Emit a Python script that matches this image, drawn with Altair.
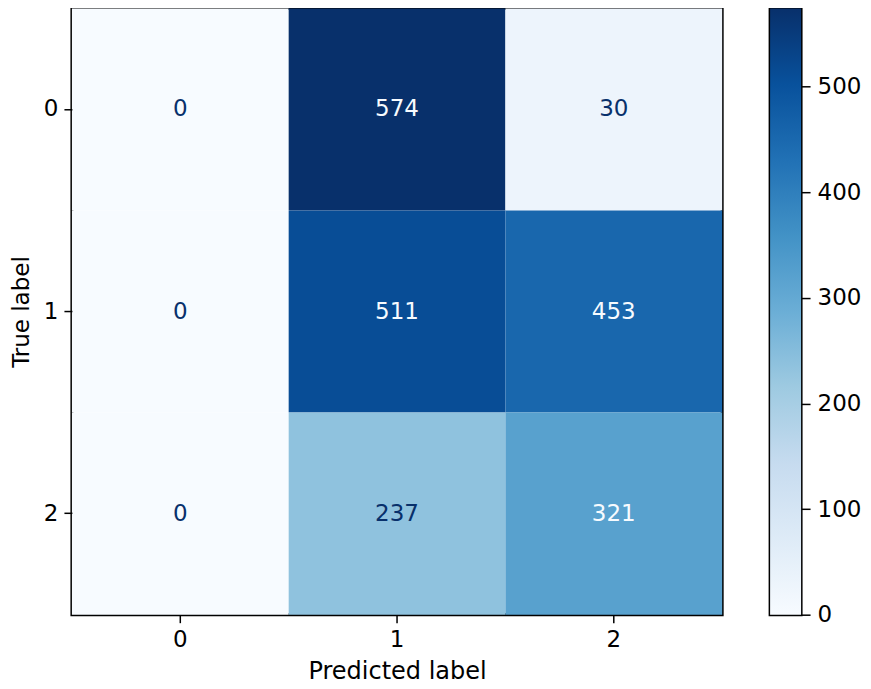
import altair as alt
import pandas as pd

true_labels = ["0", "1", "2"]
pred_labels = ["0", "1", "2"]
counts = [
    [0, 574, 30],
    [0, 511, 453],
    [0, 237, 321],
]
colorbar_ticks = [0, 100, 200, 300, 400, 500]

blues = ["#f7fbff", "#deebf7", "#c6dbef", "#9ecae1", "#6baed6",
         "#4292c6", "#2171b5", "#08519c", "#08306b"]

rows = []
for i, t in enumerate(true_labels):
    for j, p in enumerate(pred_labels):
        rows.append({"true": t, "pred": p, "count": counts[i][j]})
df = pd.DataFrame(rows)

vmax = max(max(r) for r in counts)
vmin = min(min(r) for r in counts)
thresh = (vmax + vmin) / 2.0
stops = [vmin + (vmax - vmin) * k / (len(blues) - 1) for k in range(len(blues))]

FONT = "DejaVu Sans"
FS = 23

base = alt.Chart(df).encode(
    x=alt.X("pred:O", sort=pred_labels, title="Predicted label",
            scale=alt.Scale(paddingInner=0, paddingOuter=0),
            axis=alt.Axis(labelAngle=0, labelPadding=6, titlePadding=8,
                          titleFontSize=24)),
    y=alt.Y("true:O", sort=true_labels, title="True label",
            scale=alt.Scale(paddingInner=0, paddingOuter=0),
            axis=alt.Axis(labelPadding=6, titlePadding=10)),
)

rect = base.mark_rect().encode(
    color=alt.Color(
        "count:Q",
        scale=alt.Scale(domain=stops, range=blues, interpolate="rgb"),
        legend=None,
    )
)

text = base.mark_text(font=FONT, fontSize=FS).encode(
    text="count:Q",
    color=alt.condition(alt.datum["count"] < thresh,
                        alt.value("#08306b"), alt.value("#f7fbff")),
)

heat = alt.layer(rect, text).properties(width=651, height=607)

# colorbar: one rect spanning the colour scale's extent, filled with the Blues ramp
cb_df = pd.DataFrame({"lo": [vmin], "hi": [vmax]})
gradient = alt.LinearGradient(
    gradient="linear",
    stops=[alt.GradientStop(color=c, offset=k / (len(blues) - 1)) for k, c in enumerate(blues)],
    x1=0, x2=0, y1=1, y2=0,
)
colorbar = alt.Chart(cb_df).mark_rect(fill=gradient).encode(
    x=alt.value(0), x2=alt.value(31),
    y=alt.Y("lo:Q", scale=alt.Scale(domain=[vmin, vmax], nice=False, zero=False),
            axis=alt.Axis(orient="right", values=colorbar_ticks, title=None,
                          tickSize=9, labelPadding=7)),
    y2="hi:Q",
).properties(width=31, height=607)

chart = (
    alt.hconcat(heat, colorbar, spacing=44)
    .properties(
        autosize=alt.AutoSizeParams(type="pad"),
        padding={"left": 0, "top": -2, "right": 0, "bottom": 5},
    )
    .configure_view(stroke="black", strokeWidth=3)
    .configure_axis(
        labelFont=FONT, titleFont=FONT, labelFontSize=FS, titleFontSize=FS,
        labelColor="black", titleColor="black", titleFontWeight="normal",
        tickColor="black", tickSize=8, tickWidth=1.5, domain=False, grid=False,
    )
)

chart.save("out.html", embed_options={"renderer": "svg", "actions": False})
